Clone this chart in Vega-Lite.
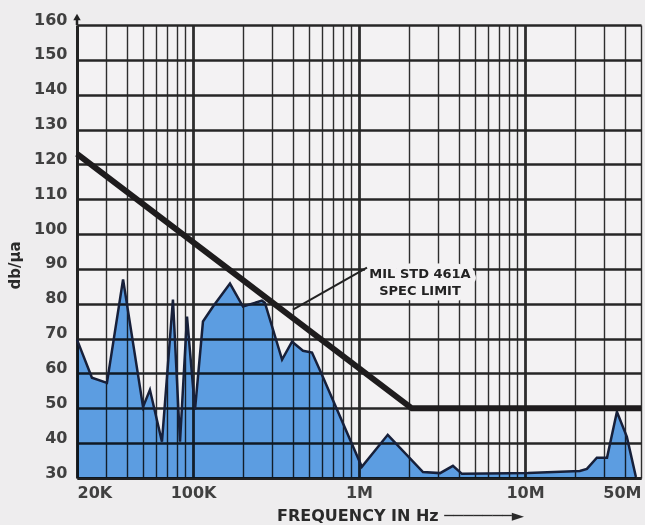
{
  "$schema": "https://vega.github.io/schema/vega-lite/v6.json",
  "width": 564,
  "height": 453,
  "autosize": {"type": "none"},
  "padding": {"left": 77, "top": 25, "right": 4, "bottom": 47},
  "background": "#eeedee",
  "config": {"view": {"stroke": null, "fill": "#f3f2f3"}, "font": "DejaVu Sans"},
  "datasets": {
    "curve": [
      {"f": 20000, "v": 69.7},
      {"f": 24600, "v": 58.8},
      {"f": 30300, "v": 57.3},
      {"f": 37900, "v": 87},
      {"f": 50000, "v": 50.4},
      {"f": 55000, "v": 55.3},
      {"f": 65000, "v": 40.4},
      {"f": 75700, "v": 81.2},
      {"f": 83500, "v": 40.4},
      {"f": 92000, "v": 76.3},
      {"f": 102800, "v": 49.6},
      {"f": 114800, "v": 74.9},
      {"f": 132000, "v": 79.2},
      {"f": 167000, "v": 85.8},
      {"f": 200000, "v": 79.2},
      {"f": 260000, "v": 80.9},
      {"f": 271000, "v": 80.3},
      {"f": 344000, "v": 64},
      {"f": 395000, "v": 69.1},
      {"f": 460000, "v": 66.5},
      {"f": 521000, "v": 66},
      {"f": 598000, "v": 59.6},
      {"f": 1040000, "v": 33.2},
      {"f": 1490000, "v": 42.4},
      {"f": 2430000, "v": 31.7},
      {"f": 3080000, "v": 31.4},
      {"f": 3680000, "v": 33.5},
      {"f": 4170000, "v": 31.2},
      {"f": 10400000, "v": 31.4},
      {"f": 21400000, "v": 32},
      {"f": 23600000, "v": 32.6},
      {"f": 27100000, "v": 35.8},
      {"f": 31200000, "v": 35.8},
      {"f": 35800000, "v": 49},
      {"f": 41100000, "v": 41.8},
      {"f": 46600000, "v": 30.3}
    ],
    "spec": [
      {"f": 20000, "v": 123},
      {"f": 2080000, "v": 50},
      {"f": 50000000, "v": 50}
    ],
    "note": [{"f": 2330000, "v": 88.4, "label": "MIL STD 461A|SPEC LIMIT"}],
    "leader": [{"f": 1117000, "v": 90.4, "f2": 400000, "v2": 78.3}],
    "arrow": [{"f": 20000, "v": 162.3}],
    "stem": [{"f": 20000, "v": 160, "v2": 162}]
  },
  "encoding": {
    "x": {
      "field": "f", "type": "quantitative",
      "scale": {"type": "log", "domain": [20000, 50000000], "nice": false},
      "axis": {
        "values": [20000, 30000, 40000, 50000, 60000, 70000, 80000, 90000, 100000, 200000, 300000, 400000, 500000, 600000, 700000, 800000, 900000, 1000000, 2000000, 3000000, 4000000, 5000000, 6000000, 7000000, 8000000, 9000000, 10000000, 20000000, 30000000, 40000000, 50000000],
        "labelExpr": "datum.value == 20000 ? '20K' : datum.value == 100000 ? '100K' : datum.value == 1000000 ? '1M' : datum.value == 10000000 ? '10M' : datum.value == 50000000 ? '50M' : ''",
        "labelFlush": true,
        "labelOverlap": false,
        "ticks": false,
        "tickSize": 0,
        "labelPadding": 6,
        "labelFontSize": 16,
        "labelFontWeight": "bold",
        "labelColor": "#404040",
        "grid": true,
        "gridColor": "#2e2e2e",
        "gridOpacity": 1,
        "gridWidth": {"condition": {"test": "datum.value == 100000 || datum.value == 1000000 || datum.value == 10000000", "value": 2.8}, "value": 1.4},
        "domain": true,
        "domainColor": "#222222",
        "domainWidth": 3,
        "title": "FREQUENCY IN Hz ───────►",
        "titleFontSize": 16,
        "titleFontWeight": "bold",
        "titleColor": "#2a2a2a",
        "titleX": 323,
        "titleY": 37,
        "titleAlign": "center",
        "titleBaseline": "middle"
      }
    },
    "y": {
      "field": "v", "type": "quantitative",
      "scale": {"domain": [30, 160], "nice": false, "zero": false},
      "axis": {
        "values": [30, 40, 50, 60, 70, 80, 90, 100, 110, 120, 130, 140, 150, 160],
        "ticks": false,
        "tickSize": 0,
        "labelPadding": 10,
        "labelFontSize": 16,
        "labelFontWeight": "bold",
        "labelColor": "#404040",
        "labelOffset": -6,
        "grid": true,
        "gridColor": "#262626",
        "gridOpacity": 1,
        "gridWidth": 2.7,
        "domain": true,
        "domainColor": "#222222",
        "domainWidth": 3,
        "title": "db/μa",
        "titleFontSize": 15,
        "titleFontWeight": "bold",
        "titleColor": "#2a2a2a",
        "titleX": -63,
        "titleY": 240,
        "titleAngle": 270,
        "titleAlign": "center",
        "titleBaseline": "middle"
      }
    }
  },
  "layer": [
    {
      "data": {"name": "curve"},
      "mark": {"type": "area", "color": "#60a6ec", "blend": "multiply", "interpolate": "linear"},
      "encoding": {"y2": {"datum": 30}}
    },
    {
      "data": {"name": "curve"},
      "mark": {"type": "line", "color": "#17203a", "strokeWidth": 2.5, "strokeJoin": "miter"},
      "encoding": {}
    },
    {
      "data": {"name": "spec"},
      "mark": {"type": "line", "color": "#1e1c1d", "strokeWidth": 6, "strokeJoin": "miter", "strokeCap": "butt"},
      "encoding": {}
    },
    {
      "data": {"name": "note"},
      "mark": {"type": "text", "fontSize": 13, "fontWeight": "bold", "lineBreak": "|", "lineHeight": 17, "align": "center", "baseline": "middle", "stroke": "#f3f2f3", "strokeWidth": 11, "strokeJoin": "round", "color": "#f3f2f3"},
      "encoding": {"text": {"field": "label"}}
    },
    {
      "data": {"name": "leader"},
      "mark": {"type": "rule", "color": "#222222", "strokeWidth": 2},
      "encoding": {"x2": {"field": "f2"}, "y2": {"field": "v2"}}
    },
    {
      "data": {"name": "note"},
      "mark": {"type": "text", "fontSize": 13, "fontWeight": "bold", "lineBreak": "|", "lineHeight": 17, "align": "center", "baseline": "middle", "color": "#222222"},
      "encoding": {"text": {"field": "label"}}
    },
    {
      "data": {"name": "stem"},
      "mark": {"type": "rule", "color": "#222222", "strokeWidth": 2.5},
      "encoding": {"y2": {"field": "v2"}}
    },
    {
      "data": {"name": "arrow"},
      "mark": {"type": "point", "shape": "triangle-up", "filled": true, "size": 55, "color": "#222222", "opacity": 1},
      "encoding": {}
    }
  ]
}
